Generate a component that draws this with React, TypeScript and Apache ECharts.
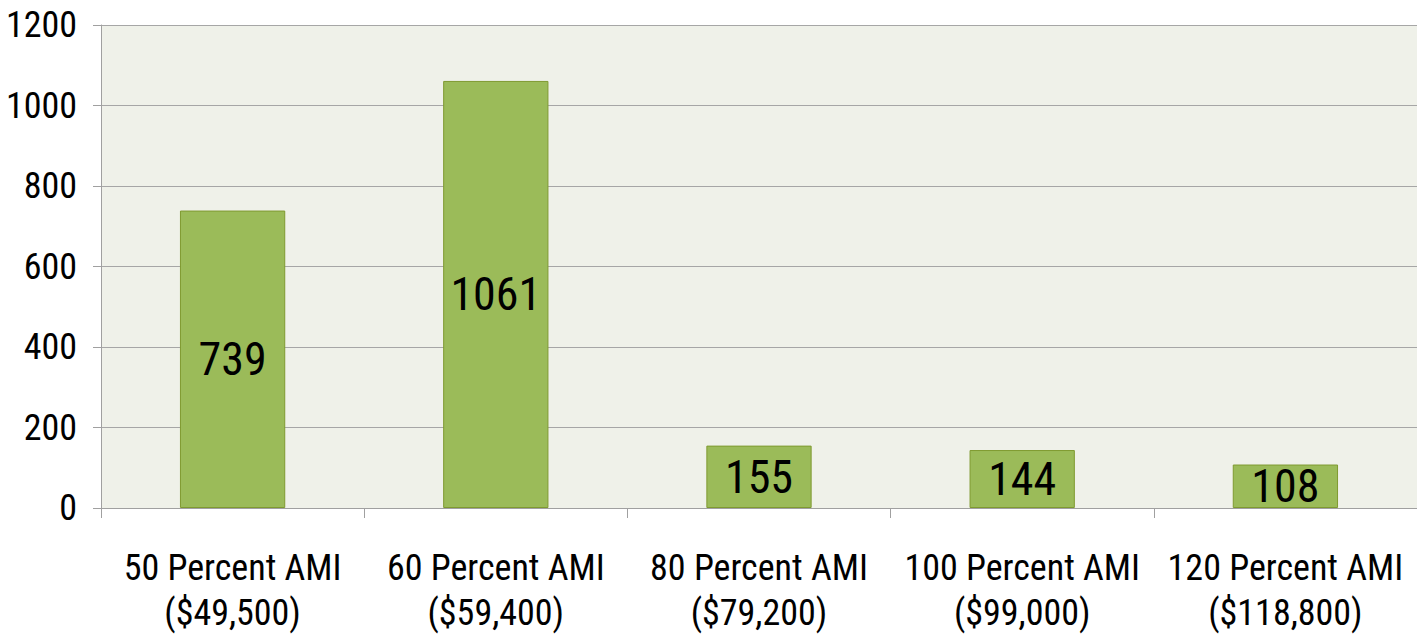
import React, { useEffect, useRef } from "react";
import * as echarts from "echarts";

const categories = [
  "50 Percent AMI\n($49,500)",
  "60 Percent AMI\n($59,400)",
  "80 Percent AMI\n($79,200)",
  "100 Percent AMI\n($99,000)",
  "120 Percent AMI\n($118,800)",
];
const values = [739, 1061, 155, 144, 108];
const yMin = 0;
const yMax = 1200;
const yInterval = 200;

const FONT = '"Liberation Sans Narrow", "Arial Narrow", "Roboto Condensed", sans-serif';

export default function App() {
  const ref = useRef<HTMLDivElement>(null);
  useEffect(() => {
    if (!ref.current) return;
    const chart = echarts.init(ref.current, undefined, { renderer: "svg" });
    chart.setOption({
      animation: false,
      grid: {
        left: 101,
        right: 0,
        top: 25,
        bottom: 130,
        show: true,
        backgroundColor: "#EFF1E9",
        borderWidth: 0,
        outerBoundsMode: "none",
      },
      xAxis: {
        type: "category",
        data: categories,
        boundaryGap: true,
        axisLine: { show: true, lineStyle: { color: "#A0A0A0", width: 1 } },
        axisTick: { show: true, length: 10, lineStyle: { color: "#A0A0A0" } },
        axisLabel: {
          color: "#000",
          fontFamily: FONT,
          fontSize: 36,
          lineHeight: 45,
          margin: 37,
          interval: 0,
        },
      },
      yAxis: {
        type: "value",
        min: yMin,
        max: yMax,
        interval: yInterval,
        axisLine: { show: true, lineStyle: { color: "#A0A0A0", width: 1 } },
        axisTick: { show: true, length: 8, lineStyle: { color: "#A0A0A0" } },
        splitLine: { show: true, lineStyle: { color: "#A6A6A6", width: 1 } },
        axisLabel: {
          color: "#000",
          fontFamily: FONT,
          fontSize: 36,
          margin: 24,
          formatter: (v: number) => String(v),
        },
      },
      series: [
        {
          type: "bar",
          data: values,
          barWidth: "40%",
          itemStyle: {
            color: "#9BBB59",
            borderColor: "#7F9A30",
            borderWidth: 1,
          },
          label: {
            show: true,
            position: "inside",
            color: "#000",
            fontFamily: FONT,
            fontSize: 46,
          },
        },
      ],
    });
    return () => chart.dispose();
  }, []);
  return (
    <div
      ref={ref}
      style={{ position: "fixed", left: 0, top: 0, width: 1417, height: 638, background: "#fff" }}
    />
  );
}
